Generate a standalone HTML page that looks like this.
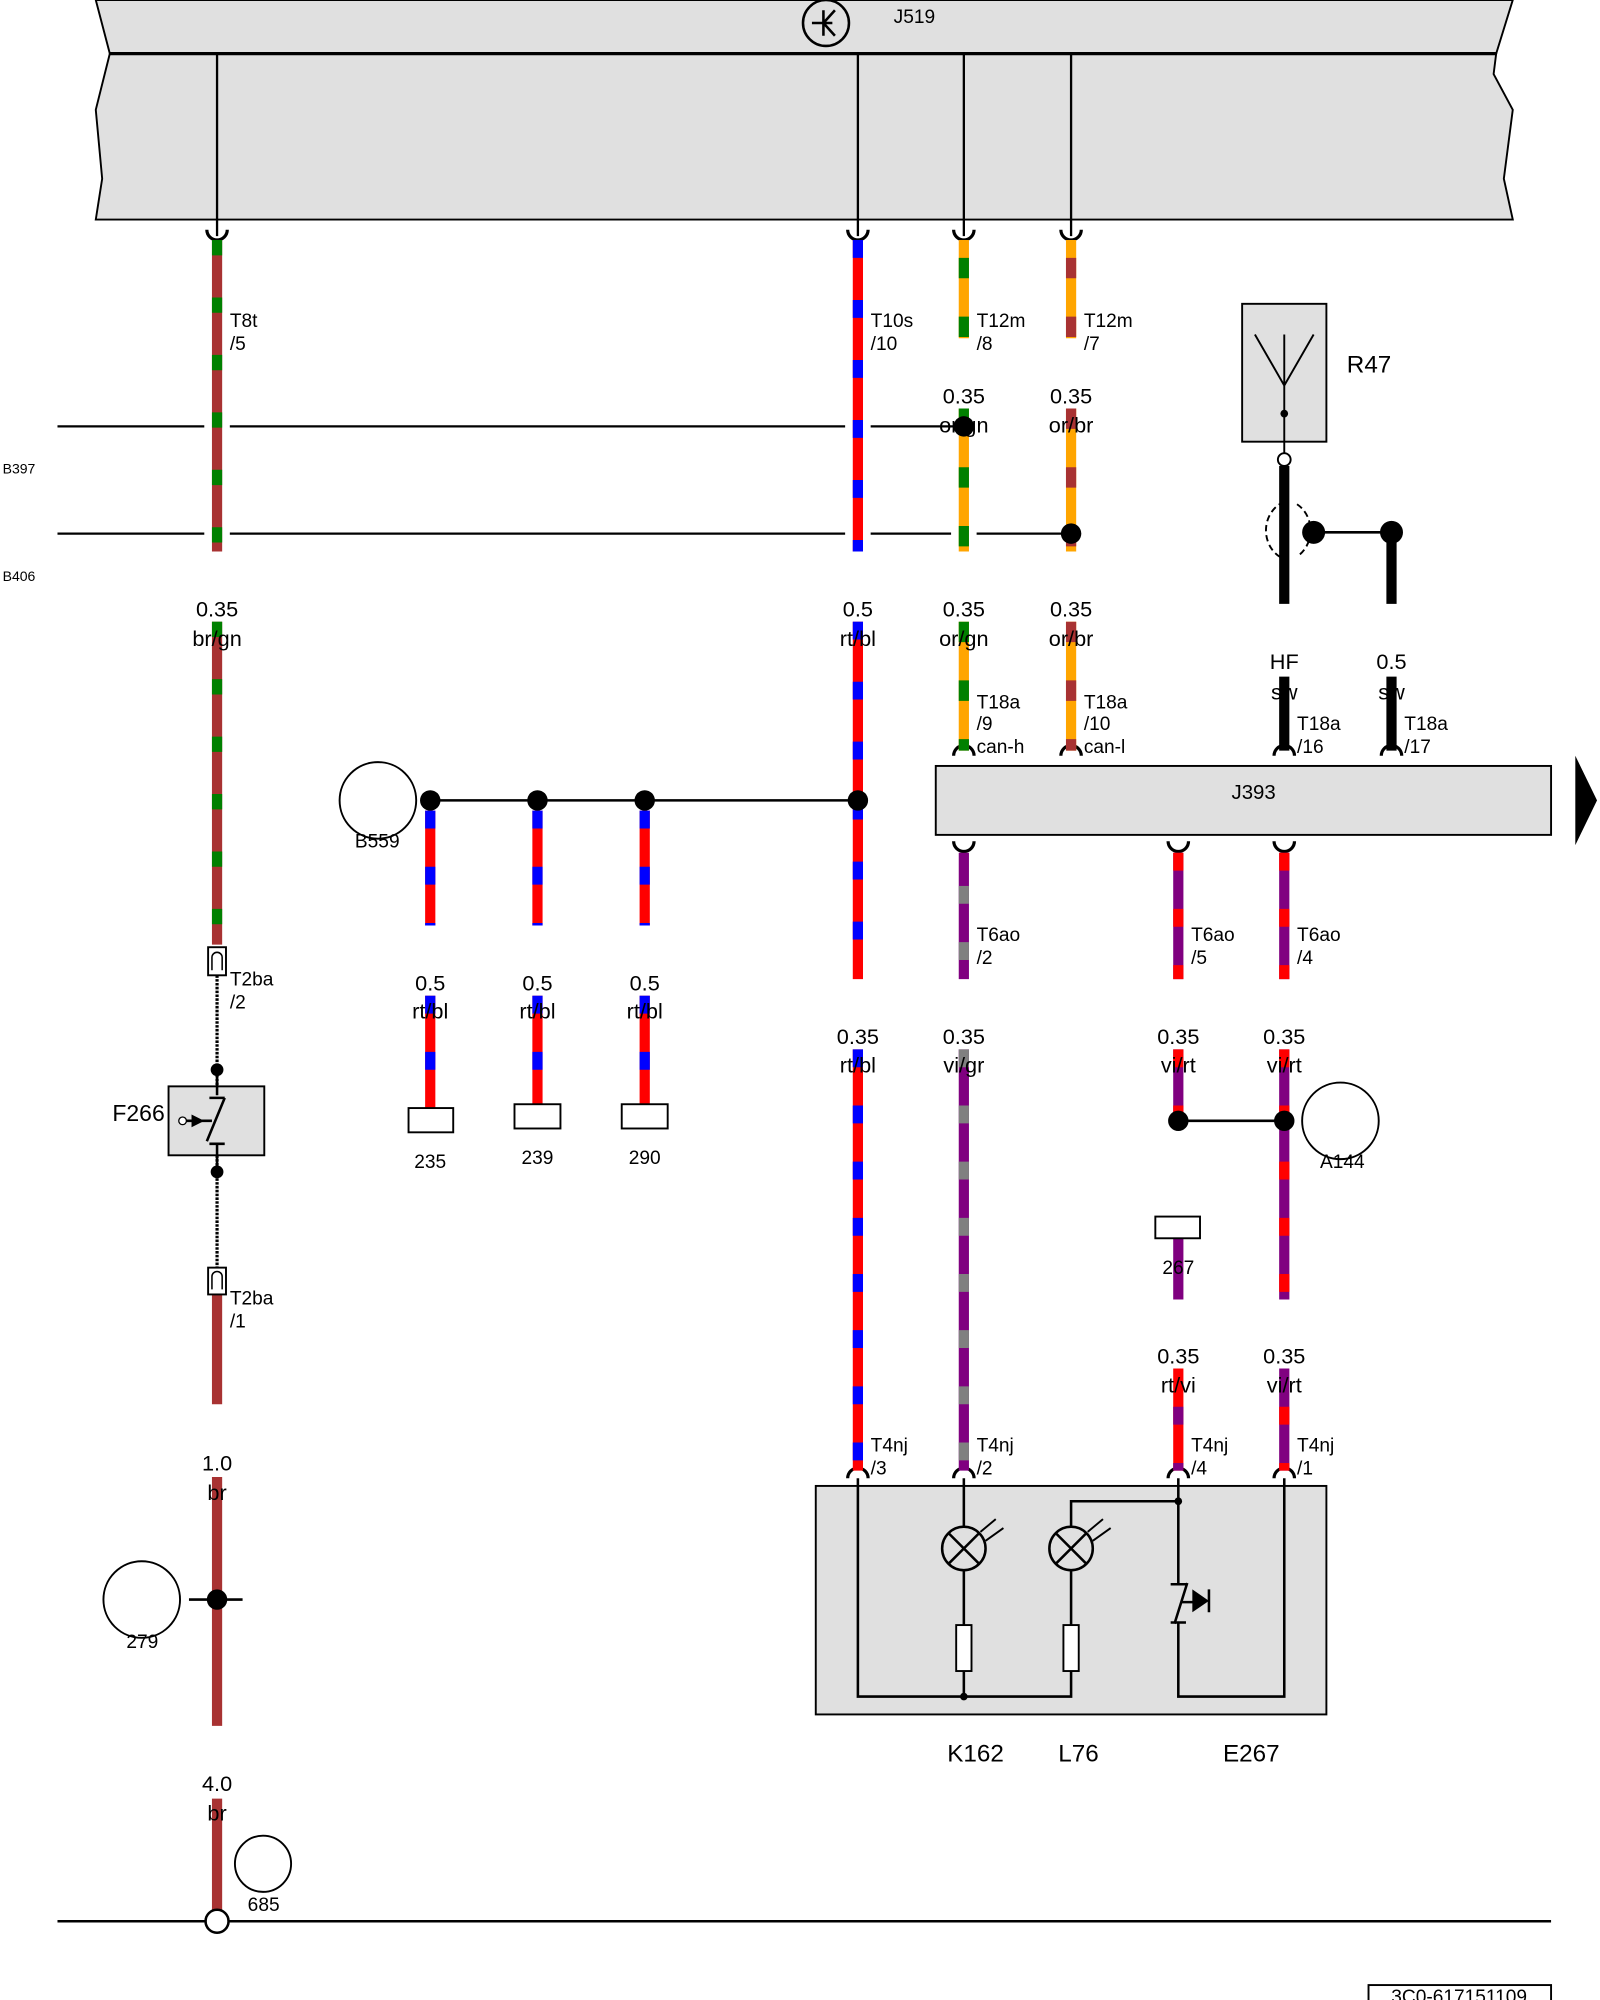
<!DOCTYPE html>
<html><head><meta charset="utf-8"><style>
html,body{margin:0;padding:0;background:#fff;}
svg{display:block}
text{font-family:"Liberation Sans",sans-serif;fill:#000}
.g{font-size:17px;text-anchor:middle}
.t{font-size:15px}
</style></head><body>
<svg width="1600" height="2000" viewBox="0 0 1253.3 1566.7" xmlns="http://www.w3.org/2000/svg">
<!-- J519 -->
<polygon points="75,0 1185,0 1172,42 86,42" fill="#e0e0e0" stroke="#000" stroke-width="1.5"/>
<polygon points="86,42 1172,42 1170,58 1185,86 1178,140 1185,172 75,172 80,140 75,86 82,58" fill="#e0e0e0" stroke="#000" stroke-width="1.5"/>
<line x1="86" y1="42" x2="1172" y2="42" stroke="#000" stroke-width="2.5"/>
<circle cx="647" cy="18" r="18" fill="none" stroke="#000" stroke-width="2"/>
<path d="M636,18 H652 M645,8 V28 M645,18 L654,8 M645,18 L654,28" stroke="#000" stroke-width="2" fill="none"/>
<text x="700" y="18" class="t">J519</text>
<g stroke="#000" stroke-width="1.8">
<line x1="170" y1="42" x2="170" y2="185"/><line x1="672" y1="42" x2="672" y2="185"/>
<line x1="755" y1="42" x2="755" y2="185"/><line x1="839" y1="42" x2="839" y2="185"/>
</g>
<!-- cups below J519 -->
<g fill="none" stroke="#000" stroke-width="2.5">
<path d="M162,180 A8,8 0 0,0 178,180"/><path d="M664,180 A8,8 0 0,0 680,180"/>
<path d="M747,180 A8,8 0 0,0 763,180"/><path d="M831,180 A8,8 0 0,0 847,180"/>
<path d="M747,659 A8,8 0 0,0 763,659"/><path d="M915,659 A8,8 0 0,0 931,659"/><path d="M998,659 A8,8 0 0,0 1014,659"/>
<path d="M747,592 A8,8 0 0,1 763,592"/><path d="M831,592 A8,8 0 0,1 847,592"/><path d="M998,592 A8,8 0 0,1 1014,592"/><path d="M1082,592 A8,8 0 0,1 1098,592"/>
<path d="M664,1158 A8,8 0 0,1 680,1158"/><path d="M747,1158 A8,8 0 0,1 763,1158"/><path d="M915,1158 A8,8 0 0,1 931,1158"/><path d="M998,1158 A8,8 0 0,1 1014,1158"/>
</g>
<!-- bus lines -->
<g stroke="#000" stroke-width="1.8">
<line x1="45" y1="334" x2="160" y2="334"/><line x1="180" y1="334" x2="662" y2="334"/><line x1="682" y1="334" x2="755" y2="334"/>
<line x1="45" y1="418" x2="160" y2="418"/><line x1="180" y1="418" x2="662" y2="418"/><line x1="682" y1="418" x2="745" y2="418"/><line x1="765" y1="418" x2="839" y2="418"/>
</g>
<text x="2" y="371" style="font-size:11px">B397</text>
<text x="2" y="455" style="font-size:11px">B406</text>
<!-- wires -->
<g stroke-width="8">
<!-- 170 br/gn -->
<line x1="170" y1="188" x2="170" y2="432" stroke="#a83232"/><line x1="170" y1="188" x2="170" y2="432" stroke="#008000" stroke-dasharray="12 33"/>
<line x1="170" y1="487" x2="170" y2="740" stroke="#a83232"/><line x1="170" y1="487" x2="170" y2="740" stroke="#008000" stroke-dasharray="12 33"/>
<line x1="170" y1="1014" x2="170" y2="1100" stroke="#a83232"/>
<line x1="170" y1="1157" x2="170" y2="1352" stroke="#a83232"/>
<line x1="170" y1="1409" x2="170" y2="1497" stroke="#a83232"/>
<!-- 672 rt/bl -->
<line x1="672" y1="188" x2="672" y2="432" stroke="#f00"/><line x1="672" y1="188" x2="672" y2="432" stroke="#00f" stroke-dasharray="14 33"/>
<line x1="672" y1="487" x2="672" y2="767" stroke="#f00"/><line x1="672" y1="487" x2="672" y2="767" stroke="#00f" stroke-dasharray="14 33"/>
<line x1="672" y1="822" x2="672" y2="1152" stroke="#f00"/><line x1="672" y1="822" x2="672" y2="1152" stroke="#00f" stroke-dasharray="14 30"/>
<line x1="337" y1="635" x2="337" y2="725" stroke="#f00"/><line x1="337" y1="635" x2="337" y2="725" stroke="#00f" stroke-dasharray="14 30"/>
<line x1="421" y1="635" x2="421" y2="725" stroke="#f00"/><line x1="421" y1="635" x2="421" y2="725" stroke="#00f" stroke-dasharray="14 30"/>
<line x1="505" y1="635" x2="505" y2="725" stroke="#f00"/><line x1="505" y1="635" x2="505" y2="725" stroke="#00f" stroke-dasharray="14 30"/>
<line x1="337" y1="780" x2="337" y2="868" stroke="#f00"/><line x1="337" y1="780" x2="337" y2="868" stroke="#00f" stroke-dasharray="14 30"/>
<line x1="421" y1="780" x2="421" y2="865" stroke="#f00"/><line x1="421" y1="780" x2="421" y2="865" stroke="#00f" stroke-dasharray="14 30"/>
<line x1="505" y1="780" x2="505" y2="865" stroke="#f00"/><line x1="505" y1="780" x2="505" y2="865" stroke="#00f" stroke-dasharray="14 30"/>
<!-- 755 or/gn -->
<line x1="755" y1="188" x2="755" y2="265" stroke="#ffa500"/><line x1="755" y1="188" x2="755" y2="265" stroke="#008000" stroke-dasharray="16 30" stroke-dashoffset="-14"/>
<line x1="755" y1="320" x2="755" y2="432" stroke="#ffa500"/><line x1="755" y1="320" x2="755" y2="432" stroke="#008000" stroke-dasharray="16 30"/>
<line x1="755" y1="487" x2="755" y2="588" stroke="#ffa500"/><line x1="755" y1="487" x2="755" y2="588" stroke="#008000" stroke-dasharray="16 30"/>
<!-- 839 or/br -->
<line x1="839" y1="188" x2="839" y2="265" stroke="#ffa500"/><line x1="839" y1="188" x2="839" y2="265" stroke="#a83232" stroke-dasharray="16 30" stroke-dashoffset="-14"/>
<line x1="839" y1="320" x2="839" y2="432" stroke="#ffa500"/><line x1="839" y1="320" x2="839" y2="432" stroke="#a83232" stroke-dasharray="16 30"/>
<line x1="839" y1="487" x2="839" y2="588" stroke="#ffa500"/><line x1="839" y1="487" x2="839" y2="588" stroke="#a83232" stroke-dasharray="16 30"/>
<!-- vi/gr 755 -->
<line x1="755" y1="668" x2="755" y2="767" stroke="#800080"/><line x1="755" y1="668" x2="755" y2="767" stroke="#808080" stroke-dasharray="14 30" stroke-dashoffset="-70"/>
<line x1="755" y1="822" x2="755" y2="1152" stroke="#800080"/><line x1="755" y1="822" x2="755" y2="1152" stroke="#808080" stroke-dasharray="14 30"/>
<!-- vi/rt 923,1006 -->
<line x1="923" y1="668" x2="923" y2="767" stroke="#800080"/><line x1="923" y1="668" x2="923" y2="767" stroke="#f00" stroke-dasharray="14 30"/>
<line x1="1006" y1="668" x2="1006" y2="767" stroke="#800080"/><line x1="1006" y1="668" x2="1006" y2="767" stroke="#f00" stroke-dasharray="14 30"/>
<line x1="923" y1="822" x2="923" y2="878" stroke="#800080"/><line x1="923" y1="822" x2="923" y2="878" stroke="#f00" stroke-dasharray="14 30"/>
<line x1="923" y1="970" x2="923" y2="1018" stroke="#800080"/>
<line x1="1006" y1="822" x2="1006" y2="1018" stroke="#800080"/><line x1="1006" y1="822" x2="1006" y2="1018" stroke="#f00" stroke-dasharray="14 30"/>
<line x1="923" y1="1072" x2="923" y2="1152" stroke="#f00"/><line x1="923" y1="1072" x2="923" y2="1152" stroke="#800080" stroke-dasharray="14 30" stroke-dashoffset="-30"/>
<line x1="1006" y1="1072" x2="1006" y2="1152" stroke="#800080"/><line x1="1006" y1="1072" x2="1006" y2="1152" stroke="#f00" stroke-dasharray="14 30" stroke-dashoffset="-30"/>
<!-- black sw -->
<line x1="1006" y1="365" x2="1006" y2="473" stroke="#000"/>
<line x1="1090" y1="418" x2="1090" y2="473" stroke="#000"/>
<line x1="1006" y1="530" x2="1006" y2="588" stroke="#000"/>
<line x1="1090" y1="530" x2="1090" y2="588" stroke="#000"/>
</g>
<!-- junction dots -->
<g fill="#000">
<circle cx="755" cy="334" r="8"/><circle cx="839" cy="418" r="8"/>
<circle cx="337" cy="627" r="8"/><circle cx="421" cy="627" r="8"/><circle cx="505" cy="627" r="8"/><circle cx="672" cy="627" r="8"/>
<circle cx="923" cy="878" r="8"/><circle cx="1006" cy="878" r="8"/>
<circle cx="170" cy="1253" r="8"/>
<circle cx="1029" cy="417" r="9"/><circle cx="1090" cy="417" r="9"/>
<circle cx="170" cy="838" r="5"/><circle cx="170" cy="918" r="5"/>
</g>
<g stroke="#000" stroke-width="2">
<line x1="337" y1="627" x2="672" y2="627"/>
<line x1="923" y1="878" x2="1006" y2="878"/>
<line x1="148" y1="1253" x2="190" y2="1253"/>
<line x1="1029" y1="417" x2="1090" y2="417"/>
<line x1="45" y1="1505" x2="1215" y2="1505"/>
</g>
<circle cx="170" cy="1505" r="9" fill="#fff" stroke="#000" stroke-width="2"/>
<!-- circles -->
<g fill="none" stroke="#000" stroke-width="1.5">
<circle cx="296" cy="627" r="30"/><circle cx="1050" cy="878" r="30"/>
<circle cx="111" cy="1253" r="30"/><circle cx="206" cy="1460" r="22"/>
</g>
<text x="278" y="664" class="t">B559</text>
<text x="1034" y="915" class="t">A144</text>
<text x="99" y="1291" class="t">279</text>
<text x="194" y="1497" class="t">685</text>
<!-- left column connector + F266 -->
<rect x="163" y="742" width="14" height="22" fill="#fff" stroke="#000" stroke-width="1.5"/>
<rect x="163" y="993" width="14" height="21" fill="#fff" stroke="#000" stroke-width="1.5"/>
<path d="M166,760 V750 A4,4 0 0,1 174,750 V760 M166,1010 V1000 A4,4 0 0,1 174,1000 V1010" fill="none" stroke="#000" stroke-width="1.2"/>
<line x1="170" y1="764" x2="170" y2="993" stroke="#000" stroke-width="2.5" stroke-dasharray="2 1"/>
<rect x="132" y="851" width="75" height="54" fill="#e0e0e0" stroke="#000" stroke-width="1.5"/>
<path d="M170,838 V858 M164,860 H176 M176,860 L162,894 M164,896 H176 M170,896 V918 M145,878 H166" stroke="#000" stroke-width="2" fill="none"/>
<polygon points="150,873 160,878 150,883" fill="#000"/>
<circle cx="143" cy="878" r="3" fill="#fff" stroke="#000"/>
<text x="88" y="878" style="font-size:18px">F266</text>
<text x="180" y="256" class="t">T8t</text><text x="180" y="274" class="t">/5</text>
<text x="180" y="772" class="t">T2ba</text><text x="180" y="790" class="t">/2</text>
<text x="180" y="1022" class="t">T2ba</text><text x="180" y="1040" class="t">/1</text>
<!-- small boxes -->
<g fill="#fff" stroke="#000" stroke-width="1.5">
<rect x="320" y="868" width="35" height="19"/><rect x="403" y="865" width="36" height="19"/><rect x="487" y="865" width="36" height="19"/>
<rect x="905" y="953" width="35" height="17"/>
</g>
<text x="337" y="915" class="g" style="font-size:15px">235</text>
<text x="421" y="912" class="g" style="font-size:15px">239</text>
<text x="505" y="912" class="g" style="font-size:15px">290</text>
<text x="923" y="998" class="g" style="font-size:15px">267</text>
<!-- gauge labels -->
<text x="170" y="483" class="g">0.35</text><text x="170" y="506" class="g">br/gn</text>
<text x="672" y="483" class="g">0.5</text><text x="672" y="506" class="g">rt/bl</text>
<text x="755" y="316" class="g">0.35</text><text x="755" y="339" class="g">or/gn</text>
<text x="839" y="316" class="g">0.35</text><text x="839" y="339" class="g">or/br</text>
<text x="755" y="483" class="g">0.35</text><text x="755" y="506" class="g">or/gn</text>
<text x="839" y="483" class="g">0.35</text><text x="839" y="506" class="g">or/br</text>
<text x="1006" y="524" class="g">HF</text><text x="1006" y="548" class="g">sw</text>
<text x="1090" y="524" class="g">0.5</text><text x="1090" y="548" class="g">sw</text>
<text x="337" y="776" class="g">0.5</text><text x="337" y="798" class="g">rt/bl</text>
<text x="421" y="776" class="g">0.5</text><text x="421" y="798" class="g">rt/bl</text>
<text x="505" y="776" class="g">0.5</text><text x="505" y="798" class="g">rt/bl</text>
<text x="672" y="818" class="g">0.35</text><text x="672" y="840" class="g">rt/bl</text>
<text x="755" y="818" class="g">0.35</text><text x="755" y="840" class="g">vi/gr</text>
<text x="923" y="818" class="g">0.35</text><text x="923" y="840" class="g">vi/rt</text>
<text x="1006" y="818" class="g">0.35</text><text x="1006" y="840" class="g">vi/rt</text>
<text x="923" y="1068" class="g">0.35</text><text x="923" y="1091" class="g">rt/vi</text>
<text x="1006" y="1068" class="g">0.35</text><text x="1006" y="1091" class="g">vi/rt</text>
<text x="170" y="1152" class="g">1.0</text><text x="170" y="1175" class="g">br</text>
<text x="170" y="1403" class="g">4.0</text><text x="170" y="1426" class="g">br</text>
<!-- T labels -->
<text x="682" y="256" class="t">T10s</text><text x="682" y="274" class="t">/10</text>
<text x="765" y="256" class="t">T12m</text><text x="765" y="274" class="t">/8</text>
<text x="849" y="256" class="t">T12m</text><text x="849" y="274" class="t">/7</text>
<text x="765" y="555" class="t">T18a</text><text x="765" y="572" class="t">/9</text><text x="765" y="590" class="t">can-h</text>
<text x="849" y="555" class="t">T18a</text><text x="849" y="572" class="t">/10</text><text x="849" y="590" class="t">can-l</text>
<text x="1016" y="572" class="t">T18a</text><text x="1016" y="590" class="t">/16</text>
<text x="1100" y="572" class="t">T18a</text><text x="1100" y="590" class="t">/17</text>
<text x="765" y="737" class="t">T6ao</text><text x="765" y="755" class="t">/2</text>
<text x="933" y="737" class="t">T6ao</text><text x="933" y="755" class="t">/5</text>
<text x="1016" y="737" class="t">T6ao</text><text x="1016" y="755" class="t">/4</text>
<text x="682" y="1137" class="t">T4nj</text><text x="682" y="1155" class="t">/3</text>
<text x="765" y="1137" class="t">T4nj</text><text x="765" y="1155" class="t">/2</text>
<text x="933" y="1137" class="t">T4nj</text><text x="933" y="1155" class="t">/4</text>
<text x="1016" y="1137" class="t">T4nj</text><text x="1016" y="1155" class="t">/1</text>
<!-- J393 -->
<rect x="733" y="600" width="482" height="54" fill="#e0e0e0" stroke="#000" stroke-width="1.5"/>
<text x="982" y="626" class="g" style="font-size:16px">J393</text>
<polygon points="1234,592 1251,627 1234,662" fill="#000"/>
<!-- R47 -->
<rect x="973" y="238" width="66" height="108" fill="#e0e0e0" stroke="#000" stroke-width="1.5"/>
<path d="M983,262 L1006,302 L1029,262 M1006,262 V360" stroke="#000" stroke-width="1.5" fill="none"/>
<circle cx="1006" cy="324" r="3" fill="#000"/>
<circle cx="1006" cy="360" r="5" fill="#fff" stroke="#000" stroke-width="1.5"/>
<path d="M1006,393 A22,24 0 0,0 1006,438" fill="none" stroke="#000" stroke-width="1.5" stroke-dasharray="5 3"/>
<path d="M1016,395 A22,24 0 0,1 1016,436" fill="none" stroke="#000" stroke-width="1.5" stroke-dasharray="5 3"/>
<text x="1055" y="292" style="font-size:19px">R47</text>
<!-- bottom box -->
<rect x="639" y="1164" width="400" height="179" fill="#e0e0e0" stroke="#000" stroke-width="1.5"/>
<g stroke="#000" stroke-width="2" fill="none">
<path d="M672,1158 V1329 H839 V1308"/>
<path d="M755,1158 V1196 M755,1230 V1273 M755,1308 V1329"/>
<path d="M839,1277 V1230 M839,1196 V1176 H923"/>
<path d="M923,1158 V1241 M917,1241 H929 M917,1271 H929 M923,1271 V1329 H1006 V1158 M930,1240 L920,1272"/>
<circle cx="755" cy="1213" r="17"/><circle cx="839" cy="1213" r="17"/>
<path d="M743,1201 L767,1225 M767,1201 L743,1225 M827,1201 L851,1225 M851,1201 L827,1225"/>
<path d="M768,1200 L780,1190 M772,1207 L786,1197 M852,1200 L864,1190 M856,1207 L870,1197" stroke-width="1.5"/>
<path d="M925,1255 H936 M947,1245 V1263"/>
</g>
<polygon points="934,1245 947,1254 934,1263" fill="#000"/>
<g fill="#fff" stroke="#000" stroke-width="1.5"><rect x="749" y="1273" width="12" height="36"/><rect x="833" y="1273" width="12" height="36"/></g>
<circle cx="755" cy="1329" r="3" fill="#000"/><circle cx="923" cy="1176" r="3" fill="#000"/>
<text x="742" y="1380" style="font-size:19px">K162</text>
<text x="829" y="1380" style="font-size:19px">L76</text>
<text x="958" y="1380" style="font-size:19px">E267</text>
<rect x="1072" y="1555" width="143" height="20" fill="#fff" stroke="#000" stroke-width="1.5"/>
<text x="1143" y="1569" class="g" style="font-size:15px">3C0-617151109</text>
</svg>
</body></html>
